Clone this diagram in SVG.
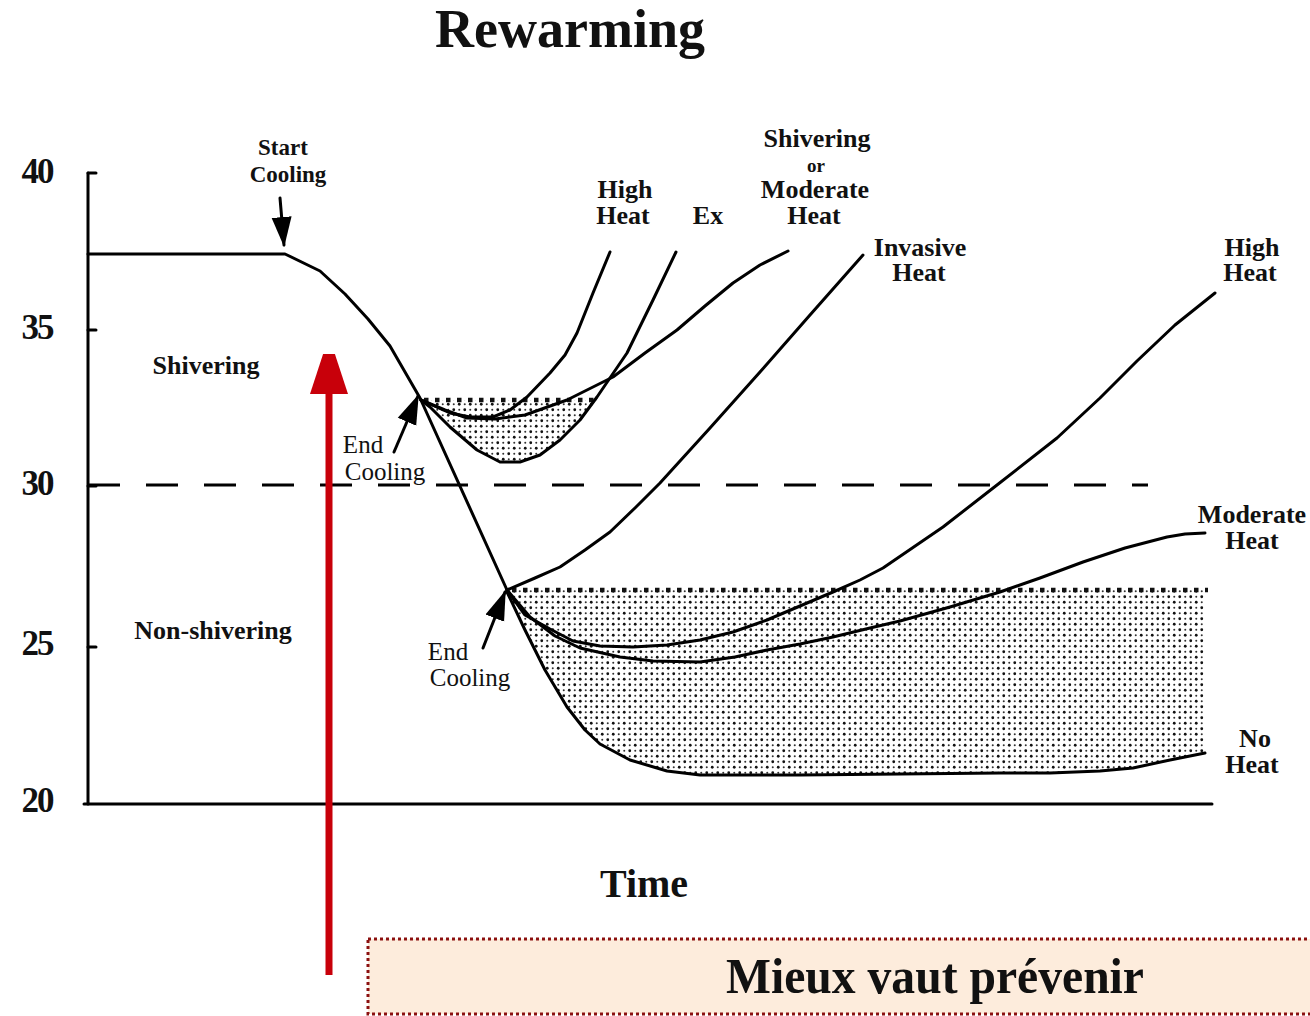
<svg xmlns="http://www.w3.org/2000/svg" width="1310" height="1016" viewBox="0 0 1310 1016">
<style>
.t{font-family:"Liberation Serif","Times New Roman",serif;font-weight:bold;fill:#111;text-anchor:middle}
.lb{font-size:26px}
.sm{font-size:23px}
.nm{font-family:"Liberation Serif","Times New Roman",serif;font-weight:normal;font-size:25px;fill:#111;text-anchor:middle}
.ax{font-size:35px;letter-spacing:-2px}
.ln{fill:none;stroke:#000;stroke-width:3;stroke-linejoin:round;stroke-linecap:round}
.dotedge{fill:none;stroke:#111;stroke-width:4.5;stroke-dasharray:4.5 6.5}
</style>
<defs>
<pattern id="stip" width="11" height="11" patternUnits="userSpaceOnUse">
<rect width="11" height="11" fill="#fff"/>
<circle cx="2.75" cy="2.75" r="1.4" fill="#111"/>
<circle cx="8.25" cy="8.25" r="1.4" fill="#111"/>
<circle cx="8.25" cy="2.75" r="1" fill="#333"/>
<circle cx="2.75" cy="8.25" r="1" fill="#333"/>
</pattern>
<marker id="ah" markerWidth="30" markerHeight="24" refX="28" refY="12" orient="auto" markerUnits="userSpaceOnUse">
<path d="M0,2 L30,12 L0,22 Z" fill="#000"/>
</marker>
<marker id="red" markerWidth="40" markerHeight="40" refX="2" refY="20" orient="auto" markerUnits="userSpaceOnUse">
<path d="M0,1 L58,20 L0,39 Z" fill="#c8000a"/>
</marker>
</defs>
<rect width="1310" height="1016" fill="#fff"/>

<g id="shading">
<polygon points="421,400 598,400 580,420 560,440 540,455 520,462 500,462 477,450 450,427 430,407" fill="url(#stip)"/>
<path d="M507,590 L1205,590 L1205,753 L1170,760 L1133,768 L1100,771 L1050,773 L1000,773 L900,774 L800,775 L700,775 L667,771 L630,760 L600,744 L585,730 L567,707 L545,670 L525,630 Z" fill="url(#stip)"/>
<line class="dotedge" x1="424" y1="400" x2="600" y2="400"/>
<line class="dotedge" x1="512" y1="590" x2="1208" y2="590"/>
</g>

<g id="axes">
<line class="ln" x1="88" y1="173" x2="88" y2="804"/>
<line class="ln" x1="84" y1="804" x2="1212" y2="804"/>
<line class="ln" x1="88" y1="173" x2="96" y2="173"/>
<line class="ln" x1="88" y1="330" x2="96" y2="330"/>
<line class="ln" x1="88" y1="486" x2="96" y2="486"/>
<line class="ln" x1="88" y1="647" x2="96" y2="647"/>
<line x1="88" y1="485" x2="1148" y2="485" stroke="#000" stroke-width="3" stroke-dasharray="32 26"/>
</g>

<g id="connectors">
<polyline class="ln" points="88,254 285,254 320,271 345,294 368,319 390,346 420,398 507,590"/>
<polyline class="ln" points="421,400 430,407 450,427 477,450 500,462 520,462 540,455 560,440 580,420 597,397 612,375 627,353 653,300 676,252"/>
<polyline class="ln" points="421,400 450,413 470,417 493,417 510,410 527,397 550,373 565,355 577,333 593,293 610,252"/>
<polyline class="ln" points="421,400 445,410 467,418 495,419 525,415 567,400 613,377 645,353 677,330 705,306 733,283 760,265 788,251"/>
<polyline class="ln" points="507,590 535,578 560,567 585,550 610,532 635,508 660,483 710,428 760,372 810,315 863,255"/>
<polyline class="ln" points="507,590 525,615 550,629 573,641 600,646 633,647 667,645 700,640 733,632 767,620 800,606 833,592 860,580 883,568 943,527 997,485 1057,438 1100,398 1137,361 1175,325 1215,293"/>
<polyline class="ln" points="507,590 530,617 555,636 580,648 620,657 653,661 700,662 735,657 767,650 800,644 833,637 870,628 900,621 950,607 1000,592 1040,578 1083,562 1125,548 1167,537 1185,534 1205,533"/>
<polyline class="ln" points="507,592 525,630 545,670 567,707 585,730 600,744 630,760 667,771 700,775 800,775 900,774 1000,773 1050,773 1100,771 1133,768 1170,760 1205,753"/>
<line class="ln" x1="280" y1="198" x2="284" y2="245" marker-end="url(#ah)"/>
<line class="ln" x1="394" y1="452" x2="418" y2="396" marker-end="url(#ah)"/>
<line class="ln" x1="483" y1="648" x2="505" y2="592" marker-end="url(#ah)"/>
</g>

<g id="red-arrow">
<line x1="329" y1="975" x2="329" y2="392" stroke="#c8000a" stroke-width="7" marker-end="url(#red)"/>
</g>

<g id="labels">
<text class="t" x="570" y="47" font-size="54">Rewarming</text>
<text class="t" x="644" y="897" font-size="40">Time</text>
<text class="t ax" x="37" y="183">40</text>
<text class="t ax" x="37" y="339">35</text>
<text class="t ax" x="37" y="495">30</text>
<text class="t ax" x="37" y="655">25</text>
<text class="t ax" x="37" y="812">20</text>
<text class="t sm"><tspan x="283" y="155">Start</tspan><tspan x="288" y="182">Cooling</tspan></text>
<text class="t lb" x="206" y="374">Shivering</text>
<text class="t lb" x="213" y="639" font-size="27">Non-shivering</text>
<text class="nm"><tspan x="363" y="453">End</tspan><tspan x="385" y="480">Cooling</tspan></text>
<text class="nm"><tspan x="448" y="660">End</tspan><tspan x="470" y="686">Cooling</tspan></text>
<text class="t lb"><tspan x="625" y="198">High</tspan><tspan x="623" y="224">Heat</tspan></text>
<text class="t lb" x="708" y="224">Ex</text>
<text class="t lb"><tspan x="817" y="147">Shivering</tspan><tspan x="816" y="172" font-size="19">or</tspan><tspan x="815" y="198">Moderate</tspan><tspan x="814" y="224">Heat</tspan></text>
<text class="t lb"><tspan x="920" y="256">Invasive</tspan><tspan x="919" y="281">Heat</tspan></text>
<text class="t lb"><tspan x="1252" y="256">High</tspan><tspan x="1250" y="281">Heat</tspan></text>
<text class="t lb"><tspan x="1252" y="523">Moderate</tspan><tspan x="1252" y="549">Heat</tspan></text>
<text class="t lb"><tspan x="1255" y="747">No</tspan><tspan x="1252" y="773">Heat</tspan></text>
</g>

<g id="note">
<rect x="368" y="939" width="950" height="75" fill="#fdecdc" stroke="#8b1010" stroke-width="3" stroke-dasharray="3 3"/>
<text class="t" x="935" y="993" font-size="50" textLength="418" lengthAdjust="spacingAndGlyphs" fill="#000">Mieux vaut prévenir</text>
</g>
</svg>
